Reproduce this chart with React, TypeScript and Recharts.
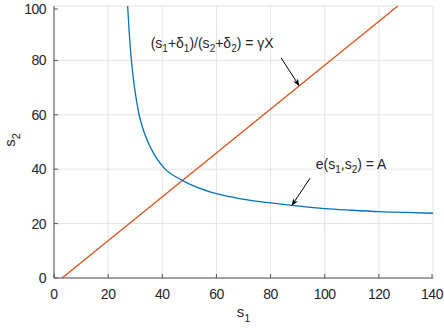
import React from "react";
import { LineChart, Line, XAxis, YAxis, CartesianGrid, ReferenceLine, ReferenceDot } from "recharts";

// values
const xTicks = [0, 20, 40, 60, 80, 100, 120, 140];
const yTicks = [0, 20, 40, 60, 80, 100];

const curveX = [27.2, 27.8, 28.6, 29.7, 31.4, 33.4, 36.1, 38.3, 41.0, 47.2, 57.6, 65, 72, 80, 88, 100, 110, 120, 130, 140];
const curveY = [100, 90, 80, 70.3, 60.2, 53.2, 47.1, 43.4, 40.1, 36.0, 31.7, 29.9, 28.6, 27.6, 26.7, 25.5, 24.9, 24.4, 24.1, 23.8];

const lineX = [3, 127];
const lineY = [0, 100];

const curveData = curveX.map((x, i) => ({ x, y: curveY[i] }));
const lineData = lineX.map((x, i) => ({ x, y: lineY[i] }));

const blue = "#0072BD";
const orange = "#D95319";
const ink = "#262626";
const axisGray = "#555";
const font = "'Liberation Sans', Arial, Helvetica, sans-serif";

const YTick = (props: any) => {
  const { x, y, payload } = props;
  return (
    <g>
      <line x1={x + 8} x2={x + 12} y1={y} y2={y} stroke={axisGray} strokeWidth={1} />
      <text x={x} y={y} dy={5} textAnchor="end" fill={ink} fontSize={14} letterSpacing={-0.5} fontFamily={font}>
        {payload.value}
      </text>
    </g>
  );
};

const XTick = (props: any) => {
  const { x, y, payload } = props;
  return (
    <g>
      <line x1={x} x2={x} y1={y - 6} y2={y - 10} stroke={axisGray} strokeWidth={1} />
      <text x={x} y={y} dy={15} textAnchor="middle" fill={ink} fontSize={14} letterSpacing={-0.5} fontFamily={font}>
        {payload.value}
      </text>
    </g>
  );
};

const Sub = ({ children }: { children: React.ReactNode }) => (
  <tspan fontSize={10} dy={4}>{children}</tspan>
);

const ratioLabel = (props: any) => {
  const { viewBox } = props;
  return (
    <text x={viewBox.x} y={viewBox.y} fill={ink} fontSize={14} fontFamily={font}>
      <tspan>(s</tspan><Sub>1</Sub>
      <tspan dy={-4}>+δ</tspan><Sub>1</Sub>
      <tspan dy={-4}>)/(s</tspan><Sub>2</Sub>
      <tspan dy={-4}>+δ</tspan><Sub>2</Sub>
      <tspan dy={-4}>) = γX</tspan>
    </text>
  );
};

const eLabel = (props: any) => {
  const { viewBox } = props;
  return (
    <text x={viewBox.x} y={viewBox.y} fill={ink} fontSize={14} fontFamily={font}>
      <tspan>e(s</tspan><Sub>1</Sub>
      <tspan dy={-4}>,s</tspan><Sub>2</Sub>
      <tspan dy={-4}>) = A</tspan>
    </text>
  );
};

const xLabel = (props: any) => {
  const { viewBox } = props;
  const cx = viewBox.x + viewBox.width / 2;
  return (
    <text x={cx} y={viewBox.y + viewBox.height + 9} textAnchor="middle" fill={ink} fontSize={15} fontFamily={font}>
      <tspan>s</tspan><tspan fontSize={11} dy={5}>1</tspan>
    </text>
  );
};

const yLabel = (props: any) => {
  const { viewBox } = props;
  const cy = viewBox.y + viewBox.height / 2 - 2;
  const cx = 15;
  return (
    <text x={cx} y={cy} transform={`rotate(-90 ${cx} ${cy})`} textAnchor="middle" fill={ink} fontSize={15} fontFamily={font}>
      <tspan>s</tspan><tspan fontSize={11} dy={5}>2</tspan>
    </text>
  );
};

export default function App() {
  return (
    <div style={{ position: "absolute", left: 0, top: 0, width: 444, height: 328, background: "#fff" }}>
      <svg width={0} height={0} style={{ position: "absolute" }}>
        <defs>
          <marker id="arrowHead" viewBox="0 0 10 10" refX={10} refY={5} markerWidth={7} markerHeight={7} orient="auto" markerUnits="userSpaceOnUse">
            <path d="M0,1 L10,5 L0,9 L3,5 Z" fill="#000" />
          </marker>
        </defs>
      </svg>
      <LineChart width={444} height={328} margin={{ top: 6, right: 11, bottom: 20, left: 0 }}>
        <CartesianGrid stroke="#e3e3e3" strokeWidth={1} />
        <XAxis
          type="number"
          dataKey="x"
          domain={[0, 140]}
          ticks={xTicks}
          allowDataOverflow
          height={30}
          tickSize={0}
          tickMargin={6}
          tickLine={false}
          axisLine={{ stroke: axisGray, strokeWidth: 1 }}
          tick={<XTick />}
          label={xLabel}
        />
        <YAxis
          type="number"
          dataKey="y"
          domain={[0, 100]}
          ticks={yTicks}
          allowDataOverflow
          width={54}
          tickSize={0}
          tickMargin={8}
          tickLine={false}
          axisLine={{ stroke: axisGray, strokeWidth: 1 }}
          tick={<YTick />}
          label={yLabel}
        />
        <Line data={lineData} dataKey="y" type="linear" stroke={orange} strokeWidth={1.3} dot={false} isAnimationActive={false} />
        <Line data={curveData} dataKey="y" type="monotone" stroke={blue} strokeWidth={1.3} dot={false} isAnimationActive={false} />
        <ReferenceLine segment={[{ x: 83.9, y: 80.9 }, { x: 90.6, y: 70.6 }]} stroke="#000" strokeWidth={1} markerEnd="url(#arrowHead)" />
        <ReferenceLine segment={[{ x: 94.6, y: 36.7 }, { x: 87.8, y: 26.6 }]} stroke="#000" strokeWidth={1} markerEnd="url(#arrowHead)" />
        <ReferenceDot x={35.7} y={84.6} r={0} fill="none" stroke="none" label={ratioLabel} />
        <ReferenceDot x={96.7} y={40.1} r={0} fill="none" stroke="none" label={eLabel} />
      </LineChart>
    </div>
  );
}
